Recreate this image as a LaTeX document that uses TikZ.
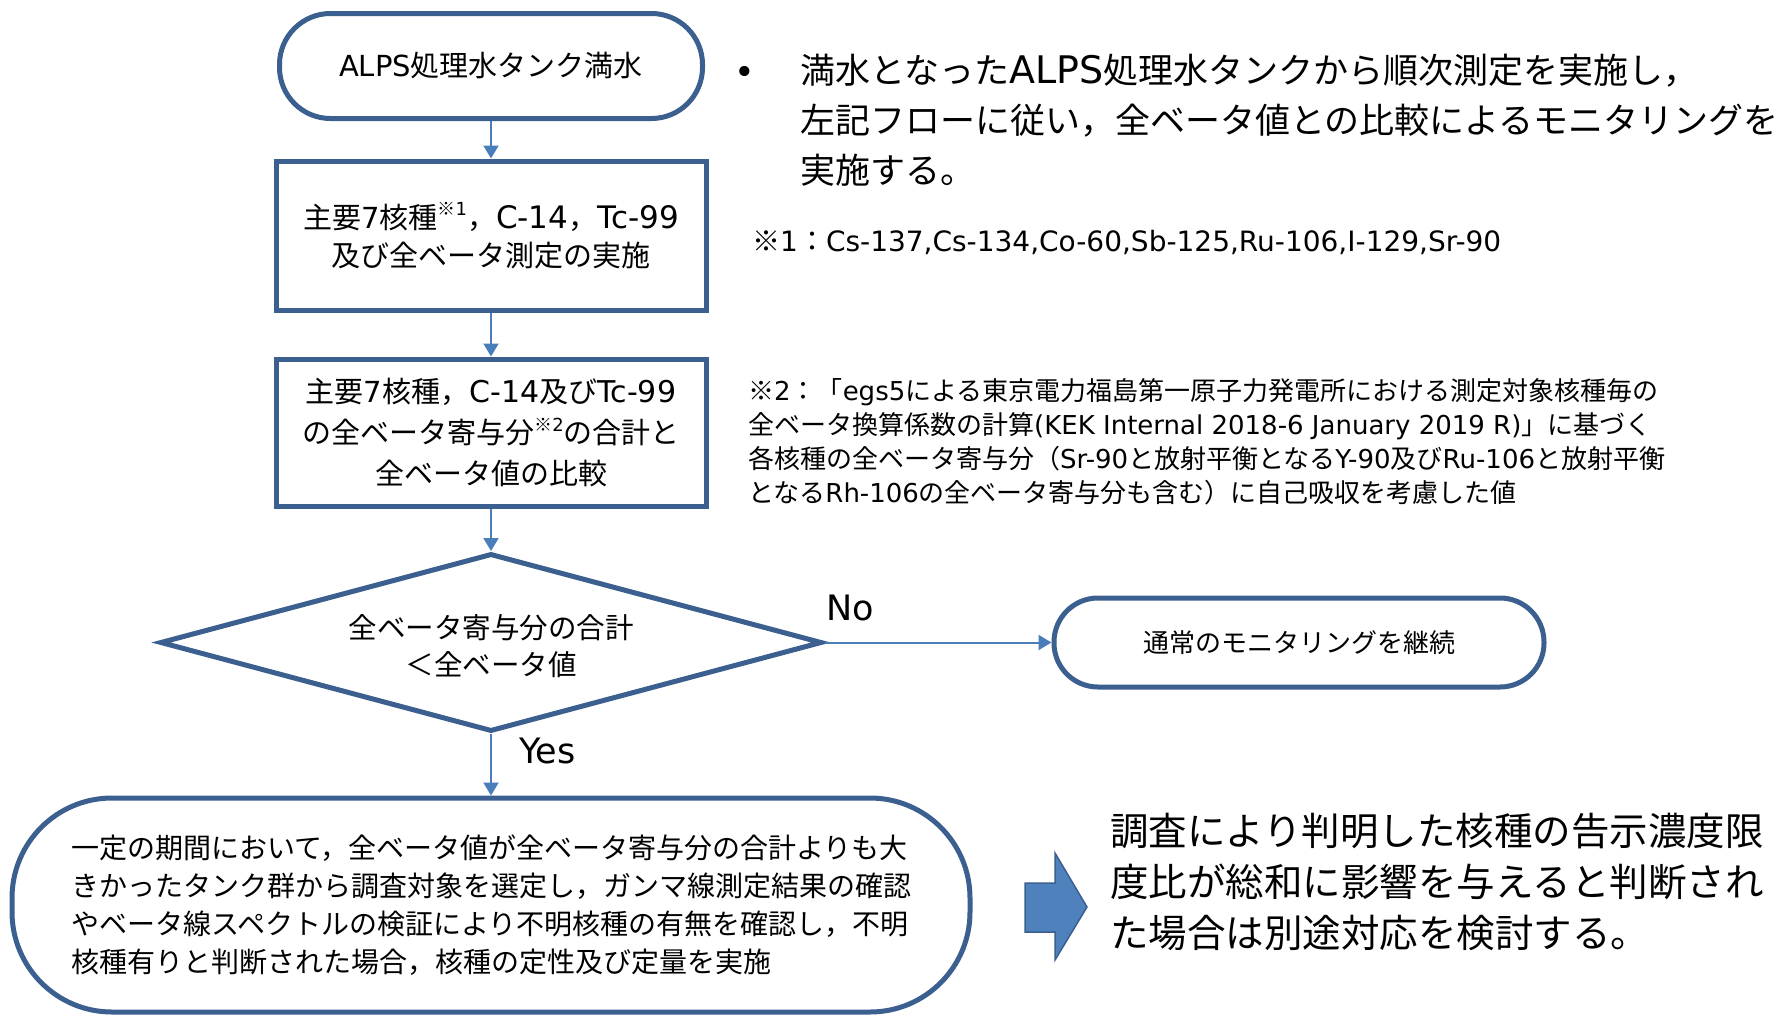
\documentclass[tikz,border=0pt]{standalone}
\usepackage{fontspec}
\usepackage{graphicx}
\setmainfont{Noto Sans CJK JP}
\newfontfamily\ltn{DejaVu Sans}
\usetikzlibrary{arrows.meta,shapes.geometric}
\definecolor{bord}{HTML}{3B5F8F}
\definecolor{arr}{HTML}{4A7EBB}
\definecolor{afill}{HTML}{4F81BD}
\newcommand\fs[2]{\fontsize{#1}{#2}\selectfont}
\newcommand\sups[1]{\raisebox{0.42em}{\scalebox{0.62}{#1}}}
\begin{document}
\begin{tikzpicture}[x=1pt,y=-1pt,
  shapebox/.style={draw=bord, line width=5pt, inner sep=0pt, align=center, fill=white},
  conn/.style={draw=arr, line width=2pt, -{Triangle[length=13pt,width=15pt]}},
  plain/.style={inner sep=0pt, align=left, text=black}]
\useasboundingbox (0,0) rectangle (1785,1017);

% flow nodes
\node[shapebox, rounded corners=51pt, minimum width=423pt, minimum height=105pt, font=\fs{29}{34}] (t1) at (491,66) {{\ltn ALPS}処理水タンク満水};
\node[shapebox, minimum width=430pt, minimum height=149pt, font=\fs{29}{38}] (b1) at (491,235.5) {主要{\ltn 7}核種\sups{※{\ltn 1}}，{\ltn\fs{31}{38}C-14}，{\ltn\fs{31}{38}Tc-99}\\及び全ベータ測定の実施};
\node[shapebox, minimum width=430pt, minimum height=147pt, font=\fs{29}{41}] (b2) at (491,432.5) {主要{\ltn 7}核種，{\ltn\fs{30}{41}C-14}及び{\ltn\fs{30}{41}Tc-99}\\の全ベータ寄与分\sups{※{\ltn 2}}の合計と\\全ベータ値の比較};
\node[diamond, draw=bord, line width=5pt, inner sep=0pt, minimum width=662pt, minimum height=178pt] (dia) at (491,642.5) {};
\node[inner sep=0pt, align=center, font=\fs{28.5}{37}] (dtext) at (491,646) {全ベータ寄与分の合計\\＜全ベータ値};
\node[shapebox, rounded corners=44pt, minimum width=490pt, minimum height=89pt, font=\fs{26}{32}] (t2) at (1299,642.5) {通常のモニタリングを継続};
\node[shapebox, align=left, rounded corners=100pt, minimum width=958pt, minimum height=214pt, font=\fs{28}{38}] (t3) at (491,905) {一定の期間において，全ベータ値が全ベータ寄与分の合計よりも大\\きかったタンク群から調査対象を選定し，ガンマ線測定結果の確認\\やベータ線スペクトルの検証により不明核種の有無を確認し，不明\\核種有りと判断された場合，核種の定性及び定量を実施};

% connectors
\draw[conn] (t1) -- (b1);
\draw[conn] (b1) -- (b2);
\draw[conn] (b2) -- (dia);
\draw[conn] (dia.east) -- (t2.west);
\draw[conn] (dia.south) -- (t3.north);

% branch labels
\node[plain, anchor=base west, font=\ltn\fs{35}{40}] (no) at (826,620) {No};
\node[plain, anchor=base west, font=\ltn\fs{35}{40}] (yes) at (519,763) {Yes};

% right-hand texts
\node[plain, anchor=base, font=\ltn\fs{35}{40}] (bul) at (745,84) {•};
\node[plain, anchor=west, font=\fs{35}{50}] (btext) at (800,120.5) {満水となった{\ltn\fs{38}{50}ALPS}処理水タンクから順次測定を実施し，\\左記フローに従い，全ベータ値との比較によるモニタリングを\\実施する。};
\node[plain, anchor=west, font=\fs{28}{34}] (note1) at (752,242) {※{\ltn 1}：{\ltn Cs-137,Cs-134,Co-60,Sb-125,Ru-106,I-129,Sr-90}};
\node[plain, anchor=west, font=\fs{26}{34}] (note2) at (748,442) {※{\ltn 2}：「{\ltn egs5}による東京電力福島第一原子力発電所における測定対象核種毎の\\全ベータ換算係数の計算{\ltn (KEK Internal 2018-6 January 2019 R)}」に基づく\\各核種の全ベータ寄与分（{\ltn Sr-90}と放射平衡となる{\ltn Y-90}及び{\ltn Ru-106}と放射平衡\\となる{\ltn Rh-106}の全ベータ寄与分も含む）に自己吸収を考慮した値};

% block arrow and conclusion
\draw[draw=bord, fill=afill, line width=1.5pt, line join=miter] (1025,883) -- (1055,883) -- (1055,853) -- (1087,907) -- (1055,960) -- (1055,932) -- (1025,932) -- cycle;
\node[plain, anchor=west, font=\fs{38.5}{51}] (concl) at (1110,882) {調査により判明した核種の告示濃度限\\度比が総和に影響を与えると判断され\\た場合は別途対応を検討する。};
\end{tikzpicture}
\end{document}
